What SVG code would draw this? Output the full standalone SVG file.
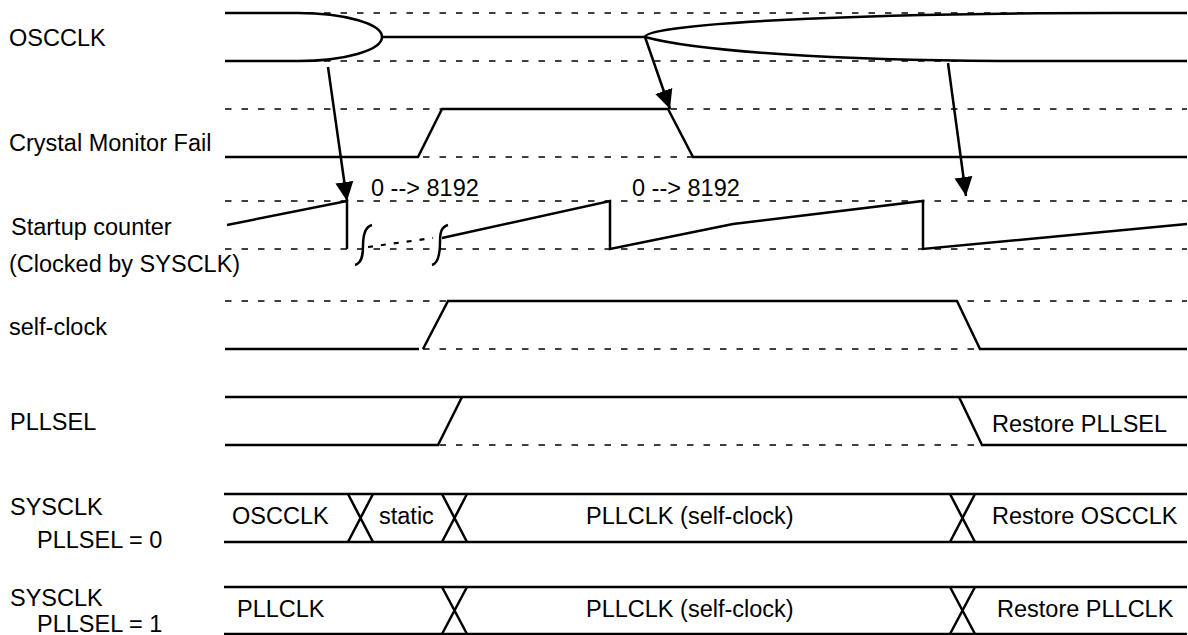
<svg xmlns="http://www.w3.org/2000/svg" width="1188" height="635" viewBox="0 0 1188 635">
<style>
text{font-family:"Liberation Sans",Arial,sans-serif;font-size:23.5px;fill:#000}
.s{fill:none;stroke:#000;stroke-width:2.5;stroke-linejoin:miter}
.d{fill:none;stroke:#000;stroke-width:1.3;stroke-dasharray:6.5 10}
.a{fill:none;stroke:#000;stroke-width:2.5}
</style>
<defs>
<marker id="ah" markerUnits="userSpaceOnUse" markerWidth="20" markerHeight="20" viewBox="0 0 20 20" refX="19" refY="10" orient="auto">
<path d="M0,1 L19,10 L0,19 Z" fill="#000"/>
</marker>
</defs>
<rect width="1188" height="635" fill="#fff"/>

<g id="labels">
<text x="9" y="46">OSCCLK</text>
<text x="9" y="151">Crystal Monitor Fail</text>
<text x="11" y="235">Startup counter</text>
<text x="9" y="272">(Clocked by SYSCLK)</text>
<text x="9" y="335">self-clock</text>
<text x="10" y="430">PLLSEL</text>
<text x="10" y="515">SYSCLK</text>
<text x="37" y="548">PLLSEL = 0</text>
<text x="10" y="606">SYSCLK</text>
<text x="37" y="632">PLLSEL = 1</text>
</g>

<g id="oscclk">
<path class="d" d="M225,13 H1187 M225,61 H1187"/>
<path class="s" d="M225,13 H298 A84,24 0 0 1 382,37 A84,24 0 0 1 298,61 H225"/>
<path class="s" d="M382,37 H645"/>
<path class="s" d="M645,37 A467,24 0 0 1 1112,13 H1187"/>
<path class="s" d="M645,37 C700,52 840,60 1000,61 H1187"/>
</g>

<g id="crystal-monitor-fail">
<path class="d" d="M225,109 H1187 M225,157 H1187"/>
<path class="s" d="M225,157 H418 L442,109 H668 L693,157 H1187"/>
</g>

<g id="startup-counter">
<path class="d" d="M225,201 H1187 M225,249 H1187"/>
<path class="s" d="M227,225 L347,201 V249"/>
<path class="s" d="M355,265 C362,263 363,255 363,246 C363,237 364,227 372,225"/>
<path class="s" d="M432,265 C439,263 440,252 440,242 C440,233 441,227 448,225"/>
<path fill="none" stroke="#000" stroke-width="2.2" stroke-dasharray="5 8" d="M368,247 L433,238"/>
<path class="s" d="M442,238 L610,201 V249 L733,224 L923,201 V249 L1187,224"/>
<text x="371" y="196">0 --&gt; 8192</text>
<text x="632" y="196">0 --&gt; 8192</text>
</g>

<g id="self-clock">
<path class="d" d="M225,301 H1187 M225,349 H1187"/>
<path class="s" d="M225,349 H419 M423,349 L448,301 H957 L980,349 H1187"/>
</g>

<g id="pllsel">
<path class="d" d="M225,445 H1187"/>
<path class="s" d="M225,397 H1187"/>
<path class="s" d="M225,445 H438 L462,397 M959,397 L982,445 H1187"/>
<text x="992" y="432">Restore PLLSEL</text>
</g>

<g id="sysclk-pllsel0">
<path class="s" d="M224,494 H1187 M224,542 H1187"/>
<path class="s" d="M348,494 L373,542 M373,494 L348,542 M442,494 L467,542 M467,494 L442,542 M950,494 L975,542 M975,494 L950,542"/>
<text x="232" y="524">OSCCLK</text>
<text x="379" y="524">static</text>
<text x="586" y="524">PLLCLK (self-clock)</text>
<text x="992" y="524">Restore OSCCLK</text>
</g>

<g id="sysclk-pllsel1">
<path class="s" d="M224,587 H1187 M224,634 H1187"/>
<path class="s" d="M442,587 L467,634 M467,587 L442,634 M950,587 L975,634 M975,587 L950,634"/>
<text x="237" y="617">PLLCLK</text>
<text x="586" y="617">PLLCLK (self-clock)</text>
<text x="997" y="617">Restore PLLCLK</text>
</g>

<g id="connectors">
<path class="a" marker-end="url(#ah)" d="M328,67 L347,201"/>
<path class="a" marker-end="url(#ah)" d="M645,37 L670,109"/>
<path class="a" marker-end="url(#ah)" d="M948,63 L966,196"/>
</g>
</svg>
